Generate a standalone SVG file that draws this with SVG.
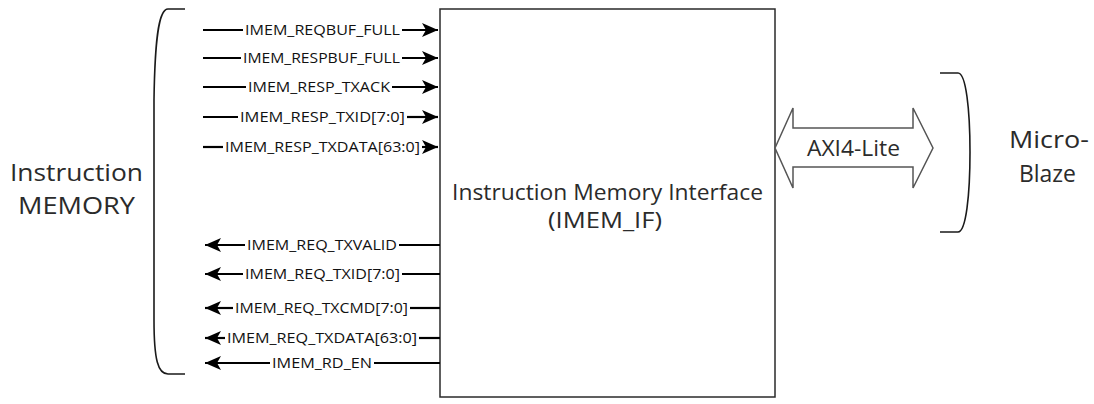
<svg xmlns="http://www.w3.org/2000/svg" width="1094" height="404" viewBox="0 0 1094 404">
  <style>
    .sig { stroke: #000; stroke-width: 2.2; fill: none; }
    .lbl { font-family: "Open Sans", "Noto Sans", sans-serif; font-size: 14px; fill: #111; }
    .big { font-family: "Open Sans", "Noto Sans", sans-serif; fill: #2b2b2b; }
    .brace { stroke: #1a1a1a; stroke-width: 1.6; fill: none; }
  </style>
  <defs>
    <marker id="head" viewBox="0 0 16 14" refX="16" refY="7" markerWidth="16" markerHeight="14" markerUnits="userSpaceOnUse" orient="auto">
      <path d="M0,0 L16,7 L0,14 L4,7 Z" fill="#000"/>
    </marker>
  </defs>
  <rect width="1094" height="404" fill="#ffffff"/>

  <!-- Instruction memory side -->
  <g id="imem">
    <path class="brace" d="M185,9 H168 C160,9 155,30 154,100 V320 C154,360 158,374 168,374 H185"/>
    <text class="big" font-size="24" x="10" y="181" textLength="133" lengthAdjust="spacingAndGlyphs">Instruction</text>
    <text class="big" font-size="24" x="18" y="214" textLength="117" lengthAdjust="spacingAndGlyphs">MEMORY</text>
  </g>

  <!-- Interface block -->
  <g id="imem_if">
    <rect x="440" y="9" width="335" height="388" fill="#fff" stroke="#2a2a2a" stroke-width="1.5"/>
    <text class="big" font-size="21" x="452" y="200" textLength="311" lengthAdjust="spacingAndGlyphs">Instruction Memory Interface</text>
    <text class="big" font-size="21" x="548" y="228" textLength="114" lengthAdjust="spacingAndGlyphs">(IMEM_IF)</text>
  </g>

  <!-- MicroBlaze side -->
  <g id="microblaze">
    <path class="brace" d="M940,73 H958 C966,73 970,110 970,152 C970,195 966,232 958,232 H940"/>
    <text class="big" font-size="23" x="1009" y="148" textLength="80" lengthAdjust="spacingAndGlyphs">Micro-</text>
    <text class="big" font-size="23" x="1019" y="182" textLength="57" lengthAdjust="spacingAndGlyphs">Blaze</text>
  </g>

  <!-- AXI4-Lite bus -->
  <g id="axi">
    <path d="M775,148 L793,108 V128 H913 V108 L933,148 L913,188 V167 H793 V188 Z" fill="#fff" stroke="#555" stroke-width="1.5" stroke-linejoin="miter"/>
    <text class="big" font-size="21" x="807" y="156" textLength="93" lengthAdjust="spacingAndGlyphs">AXI4-Lite</text>
  </g>

  <!-- Signal connectors -->
  <g id="connectors">
    <!-- memory to interface -->
    <line class="sig" x1="203" y1="30" x2="243" y2="30"/>
    <line class="sig" x1="402" y1="30" x2="438" y2="30" marker-end="url(#head)"/>
    <line class="sig" x1="203" y1="58" x2="241" y2="58"/>
    <line class="sig" x1="402" y1="58" x2="438" y2="58" marker-end="url(#head)"/>
    <line class="sig" x1="203" y1="87" x2="246" y2="87"/>
    <line class="sig" x1="392" y1="87" x2="438" y2="87" marker-end="url(#head)"/>
    <line class="sig" x1="203" y1="117" x2="238" y2="117"/>
    <line class="sig" x1="407" y1="117" x2="438" y2="117" marker-end="url(#head)"/>
    <line class="sig" x1="203" y1="147" x2="223" y2="147"/>
    <line class="sig" x1="422" y1="147" x2="438" y2="147" marker-end="url(#head)"/>
    <!-- interface to memory -->
    <line class="sig" x1="440" y1="245" x2="399" y2="245"/>
    <line class="sig" x1="245" y1="245" x2="205" y2="245" marker-end="url(#head)"/>
    <line class="sig" x1="440" y1="274" x2="402" y2="274"/>
    <line class="sig" x1="243" y1="274" x2="205" y2="274" marker-end="url(#head)"/>
    <line class="sig" x1="440" y1="308" x2="410" y2="308"/>
    <line class="sig" x1="233" y1="308" x2="205" y2="308" marker-end="url(#head)"/>
    <line class="sig" x1="440" y1="338" x2="419" y2="338"/>
    <line class="sig" x1="225" y1="338" x2="205" y2="338" marker-end="url(#head)"/>
    <line class="sig" x1="440" y1="363" x2="374" y2="363"/>
    <line class="sig" x1="270" y1="363" x2="205" y2="363" marker-end="url(#head)"/>
  </g>

  <!-- Signal names -->
  <g id="signal-labels">
    <text class="lbl" x="245" y="35" textLength="155" lengthAdjust="spacingAndGlyphs">IMEM_REQBUF_FULL</text>
    <text class="lbl" x="243" y="63" textLength="157" lengthAdjust="spacingAndGlyphs">IMEM_RESPBUF_FULL</text>
    <text class="lbl" x="248" y="92" textLength="142" lengthAdjust="spacingAndGlyphs">IMEM_RESP_TXACK</text>
    <text class="lbl" x="240" y="122" textLength="165" lengthAdjust="spacingAndGlyphs">IMEM_RESP_TXID[7:0]</text>
    <text class="lbl" x="225" y="152" textLength="195" lengthAdjust="spacingAndGlyphs">IMEM_RESP_TXDATA[63:0]</text>
    <text class="lbl" x="247" y="250" textLength="150" lengthAdjust="spacingAndGlyphs">IMEM_REQ_TXVALID</text>
    <text class="lbl" x="245" y="279" textLength="155" lengthAdjust="spacingAndGlyphs">IMEM_REQ_TXID[7:0]</text>
    <text class="lbl" x="235" y="313" textLength="173" lengthAdjust="spacingAndGlyphs">IMEM_REQ_TXCMD[7:0]</text>
    <text class="lbl" x="227" y="343" textLength="190" lengthAdjust="spacingAndGlyphs">IMEM_REQ_TXDATA[63:0]</text>
    <text class="lbl" x="272" y="368" textLength="100" lengthAdjust="spacingAndGlyphs">IMEM_RD_EN</text>
  </g>
</svg>
